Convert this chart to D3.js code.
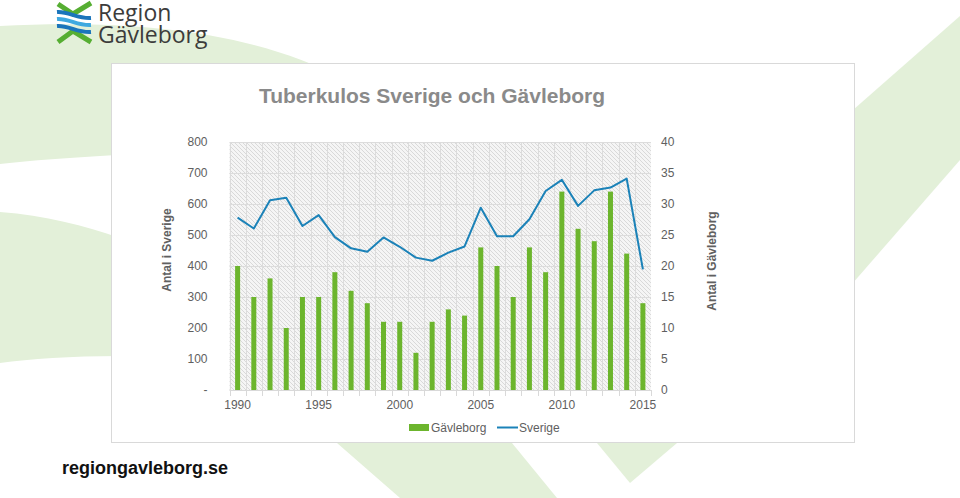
<!DOCTYPE html>
<html>

<head>
    <meta charset="UTF-8">
    <style>
        body { margin: 0; background: #fff; }
        text { font-family: "Liberation Sans", Arial, sans-serif; }
    </style>
</head>

<body>
    <div id="my_dataviz"></div>

    <script src="https://d3js.org/d3.v7.min.js"></script>
    <script>
        // chart data
        const years = [1990, 1991, 1992, 1993, 1994, 1995, 1996, 1997, 1998, 1999, 2000, 2001, 2002,
            2003, 2004, 2005, 2006, 2007, 2008, 2009, 2010, 2011, 2012, 2013, 2014, 2015];
        const gavleborg = [20, 15, 18, 10, 15, 15, 19, 16, 14, 11, 11, 6, 11, 13, 12, 23, 20, 15, 23, 19, 32, 26, 24, 32, 22, 14];
        const sverige = [556, 521, 612, 620, 529, 564, 493, 457, 446, 492, 462, 427, 417, 443, 463, 588, 496, 496, 551, 642, 678, 594, 644, 653, 682, 389];
        const leftTicks = [0, 100, 200, 300, 400, 500, 600, 700, 800];
        const leftTickLabels = ["-", "100", "200", "300", "400", "500", "600", "700", "800"];
        const rightTicks = [0, 5, 10, 15, 20, 25, 30, 35, 40];
        const xTickLabels = [1990, 1995, 2000, 2005, 2010, 2015];

        const width = 960, height = 498;
        const plot = { left: 229.5, right: 651, top: 142, bottom: 390 };
        const green = "#6cb52d", blue = "#1b82b8", textCol = "#606060", bgGreen = "#e3f0d9";

        const svg = d3.select("#my_dataviz")
            .append("svg")
            .attr("width", width)
            .attr("height", height);

        // background decoration shapes
        const bg = svg.append("g").attr("fill", bgGreen);
        bg.append("path").attr("d", "M0,26 C120,20 250,28 345,80 L345,150 C200,150 80,155 0,164 Z");
        bg.append("path").attr("d", "M0,212 C45,215 85,226 120,238 L120,356 C70,356 30,359 0,363 Z");
        bg.append("path").attr("d", "M337,443 L512,443 L557,498 L400,498 Z");
        bg.append("path").attr("d", "M597,443 L677,443 L630,483 Z");
        bg.append("path").attr("d", "M960,16 L960,160 L845,292 L845,117 Z");

        // logo
        const logo = svg.append("g");
        logo.append("path").attr("d", "M58,4 L73,14 L91,3")
            .attr("fill", "none").attr("stroke", "#56ae32").attr("stroke-width", 5);
        logo.append("path").attr("d", "M58,42 L73,31 L91,42")
            .attr("fill", "none").attr("stroke", "#56ae32").attr("stroke-width", 5);
        [[15, "#1b75bb"], [22, "#3fa9e0"], [29, "#1b75bb"]].forEach(function (w) {
            logo.append("path")
                .attr("d", "M57," + (w[0] - 3) + " C68," + (w[0] - 4) + " 78," + (w[0] + 4) + " 91," + (w[0] + 3))
                .attr("fill", "none").attr("stroke", w[1]).attr("stroke-width", 4);
        });
        logo.append("text").attr("x", 98).attr("y", 21).text("Region")
            .style("font-family", "'Open Sans', sans-serif").style("font-size", "23px").attr("fill", "#3c3c3b");
        logo.append("text").attr("x", 98).attr("y", 43).text("Gävleborg")
            .style("font-family", "'Open Sans', sans-serif").style("font-size", "23px").attr("fill", "#3c3c3b");

        // chart box
        svg.append("rect")
            .attr("x", 111.5).attr("y", 63.5).attr("width", 743).attr("height", 379)
            .attr("fill", "#fff").attr("stroke", "#d9d9d9");

        svg.append("text")
            .attr("x", 432).attr("y", 103)
            .attr("text-anchor", "middle")
            .style("font-size", "21px").style("font-weight", "bold")
            .attr("fill", "#8a8a8a")
            .text("Tuberkulos Sverige och Gävleborg");

        // hatch pattern for plot area
        const pat = svg.append("defs").append("pattern")
            .attr("id", "hatch").attr("patternUnits", "userSpaceOnUse")
            .attr("width", 4).attr("height", 4);
        pat.append("rect").attr("width", 4).attr("height", 4).attr("fill", "#f5f5f5");
        pat.append("path").attr("d", "M-1,-1 L5,5 M-1,3 L1,5 M3,-1 L5,1")
            .attr("stroke", "#d6d6d6").attr("stroke-width", 0.9);

        // scales
        const x = d3.scaleBand().domain(years).range([plot.left, plot.right]);
        const yL = d3.scaleLinear().domain([0, 800]).range([plot.bottom, plot.top]);
        const yR = d3.scaleLinear().domain([0, 40]).range([plot.bottom, plot.top]);
        const cx = function (d) { return x(d) + x.bandwidth() / 2; };

        svg.append("rect")
            .attr("x", plot.left).attr("y", plot.top)
            .attr("width", plot.right - plot.left).attr("height", plot.bottom - plot.top)
            .attr("fill", "url(#hatch)");

        // gridlines
        const grid = svg.append("g").attr("stroke", "#dcdcdc").attr("stroke-width", 1);
        grid.selectAll("line.h")
            .data(leftTicks.slice(1))
            .enter().append("line")
            .attr("x1", plot.left).attr("x2", plot.right)
            .attr("y1", function (d) { return Math.round(yL(d)) + 0.5; })
            .attr("y2", function (d) { return Math.round(yL(d)) + 0.5; });
        grid.selectAll("line.v")
            .data(years)
            .enter().append("line")
            .attr("x1", function (d) { return Math.round(x(d)) + 0.5; })
            .attr("x2", function (d) { return Math.round(x(d)) + 0.5; })
            .attr("y1", plot.top).attr("y2", plot.bottom);

        // x axis line and ticks at category boundaries
        const bounds = years.map(function (d) { return x(d); }).concat([plot.right]);
        svg.append("line")
            .attr("x1", plot.left).attr("x2", plot.right)
            .attr("y1", plot.bottom + 0.5).attr("y2", plot.bottom + 0.5)
            .attr("stroke", "#d9d9d9");
        svg.append("g").selectAll("line")
            .data(bounds)
            .enter().append("line")
            .attr("x1", function (d) { return Math.round(d) + 0.5; })
            .attr("x2", function (d) { return Math.round(d) + 0.5; })
            .attr("y1", plot.bottom).attr("y2", plot.bottom + 6)
            .attr("stroke", "#d9d9d9");

        // axes
        const leftAxis = svg.append("g")
            .attr("transform", "translate(" + plot.left + ",0)")
            .call(d3.axisLeft(yL).tickValues(leftTicks).tickSize(0).tickPadding(22)
                .tickFormat(function (d, i) { return leftTickLabels[i]; }));
        const rightAxis = svg.append("g")
            .attr("transform", "translate(" + plot.right + ",0)")
            .call(d3.axisRight(yR).tickValues(rightTicks).tickSize(0).tickPadding(10));
        const bottomAxis = svg.append("g")
            .attr("transform", "translate(0," + plot.bottom + ")")
            .call(d3.axisBottom(x).tickValues(xTickLabels).tickSize(0).tickPadding(10));
        [leftAxis, rightAxis, bottomAxis].forEach(function (a) {
            a.select(".domain").remove();
            a.selectAll("text")
                .style("font-family", "'Liberation Sans', Arial, sans-serif")
                .style("font-size", "12px")
                .attr("fill", textCol);
        });

        // bars
        const barW = 5;
        svg.append("g").selectAll("rect")
            .data(years)
            .enter().append("rect")
            .attr("x", function (d) { return cx(d) - barW / 2; })
            .attr("y", function (d, i) { return yR(gavleborg[i]); })
            .attr("width", barW)
            .attr("height", function (d, i) { return plot.bottom - yR(gavleborg[i]); })
            .attr("fill", green);

        // line
        const line = d3.line()
            .x(function (d, i) { return cx(years[i]); })
            .y(function (d) { return yL(d); });
        svg.append("path")
            .datum(sverige)
            .attr("d", line)
            .attr("fill", "none")
            .attr("stroke", blue)
            .attr("stroke-width", 2)
            .attr("stroke-linejoin", "round");

        // axis titles
        svg.append("text")
            .attr("transform", "translate(171,250) rotate(-90)")
            .attr("text-anchor", "middle")
            .style("font-size", "12px").style("font-weight", "bold")
            .attr("fill", textCol)
            .text("Antal i Sverige");
        svg.append("text")
            .attr("transform", "translate(716,261) rotate(-90)")
            .attr("text-anchor", "middle")
            .style("font-size", "12px").style("font-weight", "bold")
            .attr("fill", textCol)
            .text("Antal i Gävleborg");

        // legend
        const legend = svg.append("g");
        legend.append("rect")
            .attr("x", 409).attr("y", 424).attr("width", 20).attr("height", 7)
            .attr("fill", green);
        legend.append("text")
            .attr("x", 431).attr("y", 432)
            .style("font-size", "12px").attr("fill", textCol)
            .text("Gävleborg");
        legend.append("line")
            .attr("x1", 497).attr("x2", 518).attr("y1", 427.5).attr("y2", 427.5)
            .attr("stroke", blue).attr("stroke-width", 2);
        legend.append("text")
            .attr("x", 519).attr("y", 432)
            .style("font-size", "12px").attr("fill", textCol)
            .text("Sverige");

        // footer
        svg.append("text")
            .attr("x", 62).attr("y", 474)
            .style("font-size", "18px").style("font-weight", "bold")
            .attr("fill", "#111")
            .text("regiongavleborg.se");
    </script>
</body>

</html>
